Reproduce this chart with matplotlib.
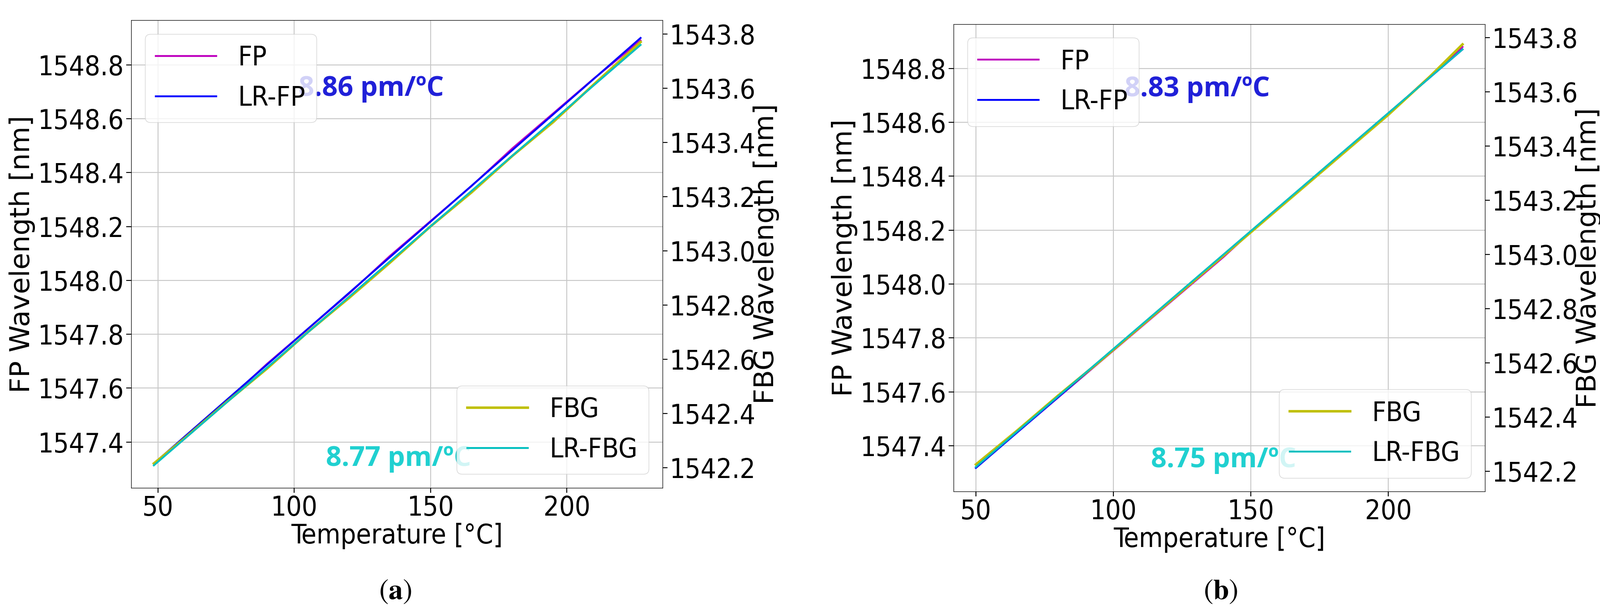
import numpy as np
import matplotlib
matplotlib.use('Agg')
import matplotlib.pyplot as plt

plt.rcParams['font.family'] = ['DejaVu Sans']
plt.rcParams['font.stretch'] = 'condensed'
plt.rcParams['mathtext.fontset'] = 'stix'

# panel (a) readings
temp_a = [48.5, 60, 75, 90, 105, 120, 135, 150, 165, 180, 195, 210, 227]
fp_a = [1547.32, 1547.42, 1547.55, 1547.69, 1547.82, 1547.95, 1548.09, 1548.22, 1548.35, 1548.49, 1548.62, 1548.75, 1548.89]
fbg_a = [1542.215, 1542.31, 1542.44, 1542.565, 1542.70, 1542.825, 1542.955, 1543.09, 1543.215, 1543.35, 1543.475, 1543.615, 1543.77]
# panel (b) readings
temp_b = [50, 65, 80, 95, 110, 125, 140, 155, 170, 185, 200, 215, 227]
fp_b = [1547.33, 1547.45, 1547.58, 1547.71, 1547.84, 1547.97, 1548.10, 1548.24, 1548.37, 1548.50, 1548.63, 1548.77, 1548.88]
fbg_b = [1542.225, 1542.35, 1542.48, 1542.605, 1542.735, 1542.865, 1542.995, 1543.125, 1543.255, 1543.385, 1543.515, 1543.655, 1543.775]

panels = [
    dict(t=temp_a, fp=fp_a, fbg=fbg_a, xlim=(40.2, 235), s_fp='8.86 pm/ºC', s_fbg='8.77 pm/ºC',
         rect=[0.082, 0.208, 0.332, 0.759], lab='a', xl=0.247, fpxy=(0.315, 0.853), fbgxy=(0.64, 0.062)),
    dict(t=temp_b, fp=fp_b, fbg=fbg_b, xlim=(41.9, 235.1), s_fp='8.83 pm/ºC', s_fbg='8.75 pm/ºC',
         rect=[0.596, 0.202, 0.332, 0.759], lab='b', xl=0.763, fpxy=(0.322, 0.86), fbgxy=(0.645, 0.067)),
]

fig = plt.figure(figsize=(35.74, 13.75), dpi=100)
fs = 44
for p in panels:
    ax = fig.add_axes(p['rect'])
    t = np.array(p['t'])
    l1, = ax.plot(t, p['fp'], color='m', lw=3, label='FP')
    c = np.polyfit(t, p['fp'], 1)
    l2, = ax.plot(t, np.polyval(c, t), color='b', lw=3, label='LR-FP')
    ax.set_xlim(*p['xlim'])
    ax.set_ylim(1547.23, 1548.965)
    ax.set_yticks([1547.4, 1547.6, 1547.8, 1548.0, 1548.2, 1548.4, 1548.6, 1548.8])
    ax.set_xticks([50, 100, 150, 200])
    ax.grid(True, color='#c8c8c8', lw=1.5)
    ax.tick_params(labelsize=fs, length=8, width=1.5)
    ax.set_xlabel('Temperature [°C]', fontsize=fs, labelpad=2)
    ax.set_ylabel('FP Wavelength [nm]', fontsize=fs, stretch='normal', labelpad=4)
    ax2 = ax.twinx()
    l3, = ax2.plot(t, p['fbg'], color='y', lw=4, label='FBG')
    c2 = np.polyfit(t, p['fbg'], 1)
    l4, = ax2.plot(t, np.polyval(c2, t), color='c', lw=3, label='LR-FBG')
    ax2.set_ylim(1542.125, 1543.85)
    ax2.set_yticks([1542.2, 1542.4, 1542.6, 1542.8, 1543.0, 1543.2, 1543.4, 1543.6, 1543.8])
    ax2.tick_params(labelsize=fs, length=8, width=1.5)
    ax2.set_ylabel('FBG Wavelength [nm]', fontsize=fs, stretch='normal', labelpad=-4)
    ax.legend(handles=[l1, l2], loc='upper left', fontsize=fs, handlelength=2.2)
    ax2.legend(handles=[l3, l4], loc='lower right', fontsize=fs, handlelength=2.2)
    ax.text(*p['fpxy'], p['s_fp'], transform=ax.transAxes, color='#2020d8', fontsize=fs,
            fontweight='bold', family='Open Sans', stretch='condensed', ha='left', va='center')
    ax.text(*p['fbgxy'], p['s_fbg'], transform=ax.transAxes, color='#20d0d0', fontsize=fs,
            fontweight='bold', family='Open Sans', stretch='condensed', ha='right', va='center')
    fig.text(p['xl'], 0.04, r'$(\mathbf{' + p['lab'] + r'})$', fontsize=46, ha='center', va='center')

fig.savefig('out.png', dpi=100)
